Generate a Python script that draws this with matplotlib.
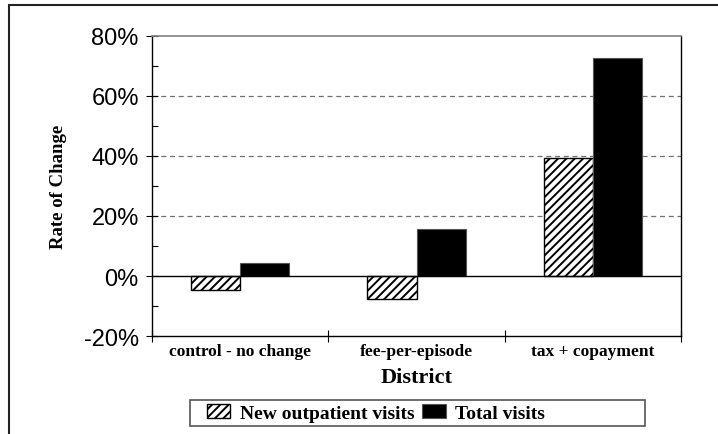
import numpy as np
import matplotlib
matplotlib.use("Agg")
import matplotlib.pyplot as plt
from matplotlib.ticker import PercentFormatter, MultipleLocator, FixedLocator
from matplotlib.patches import Rectangle

# Data (rate of change, %)
districts = ['control - no change', 'fee-per-episode', 'tax + copayment']
new_outpatient = [-4.7, -7.7, 39.2]
total_visits = [4.2, 15.6, 72.8]
series_names = ['New outpatient visits', 'Total visits']
y_ticks = [-20, 0, 20, 40, 60, 80]

plt.rcParams['hatch.linewidth'] = 1.4
plt.rcParams['axes.unicode_minus'] = False
serif = {'family': 'Liberation Serif', 'weight': 'bold'}

fig = plt.figure(figsize=(7.18, 4.35), dpi=100)
ax = fig.add_axes([152 / 718, 1 - 337 / 435, 529 / 718, 300 / 435])

x = np.arange(len(districts))
w = 0.278
b1 = ax.bar(x - w / 2, new_outpatient, w, facecolor='white', edgecolor='black',
            hatch='////', linewidth=1.0, zorder=3, label=series_names[0])
b2 = ax.bar(x + w / 2, total_visits, w, facecolor='black', edgecolor='#555555',
            linewidth=0.8, zorder=3, label=series_names[1])

ax.set_xlim(-0.5, 2.5)
ax.set_ylim(-20, 80)

# gridlines
for lvl in [20, 40, 60]:
    ax.axhline(lvl, color='#707070', linestyle=(0, (4, 3)), linewidth=0.9, zorder=1)
ax.axhline(0, color='black', linewidth=1.0, zorder=4)

# y axis
ax.yaxis.set_major_locator(FixedLocator(y_ticks))
ax.yaxis.set_minor_locator(MultipleLocator(10))
ax.yaxis.set_major_formatter(PercentFormatter(decimals=0))
ax.tick_params(axis='y', which='major', direction='inout', length=9, width=0.8, pad=5,
               labelsize=17)
ax.tick_params(axis='y', which='minor', direction='in', length=4, width=0.8)
for t in ax.get_yticklabels():
    t.set_family('Liberation Sans')

# x axis: boundary ticks, labels centred in categories
ax.set_xticks([-0.5, 0.5, 1.5, 2.5])
ax.set_xticklabels([])
ax.set_xticks(x, minor=True)
ax.set_xticklabels(districts, minor=True, fontdict=dict(serif, size=12.5))
ax.tick_params(axis='x', which='major', direction='inout', length=9, width=0.8)
ax.tick_params(axis='x', which='minor', length=0, pad=5)

for s in ['left', 'bottom', 'right']:
    ax.spines[s].set_color('black')
    ax.spines[s].set_linewidth(1.0)
ax.spines['top'].set_color('#808080')
ax.spines['top'].set_linewidth(1.2)

ax.set_xlabel('District', fontdict=dict(serif, size=16), labelpad=6)
ax.set_ylabel('Rate of Change', fontdict=dict(serif, size=13.5), labelpad=12)

# legend
fig.legend(handles=[b1, b2], loc='center left', bbox_to_anchor=(197 / 718, 1 - 414 / 435),
           ncol=2, frameon=False, borderpad=0, handlelength=1.2, handleheight=0.7,
           handletextpad=0.5, columnspacing=0.4, prop=dict(serif, size=14))
fig.patches.append(Rectangle((190 / 718, 1 - 427 / 435), 455 / 718, 26 / 435,
                             transform=fig.transFigure, fill=False,
                             edgecolor='#555555', linewidth=1.2))

# outer frame (cut off at right and bottom)
fig.patches.append(Rectangle((9 / 718, -0.1), 1.2, 1.1 - 6 / 435,
                             transform=fig.transFigure, fill=False,
                             edgecolor='#222222', linewidth=1.5))

fig.savefig('out.png', dpi=100)
